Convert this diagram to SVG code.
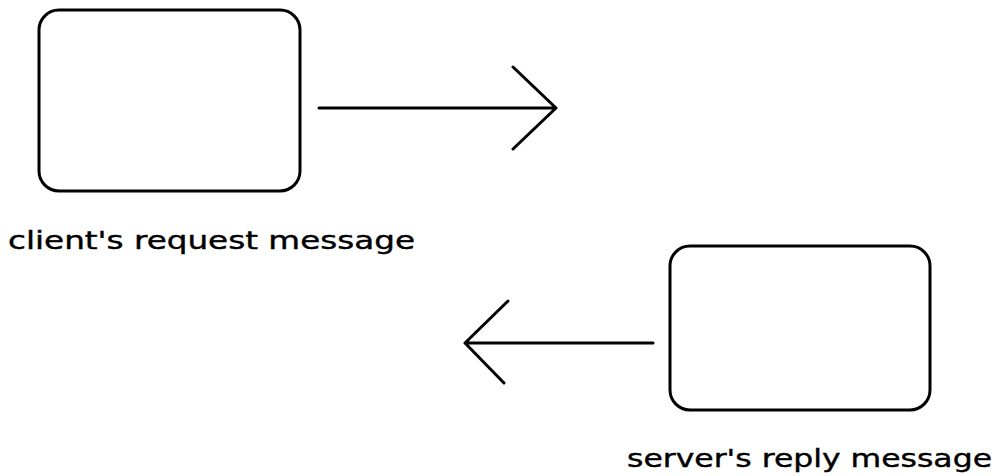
<svg xmlns="http://www.w3.org/2000/svg" width="1004" height="476" viewBox="0 0 1004 476">
<style>
.box{fill:none;stroke:#000;stroke-width:3}
.ln{fill:none;stroke:#000;stroke-width:3;stroke-linecap:round;stroke-linejoin:round}
.lbl{font-family:"DejaVu Sans","Liberation Sans",sans-serif;font-size:25px;fill:#000;stroke:#000;stroke-width:0.4}
</style>
<rect width="1004" height="476" fill="#fff"/>
<g id="client">
<rect class="box" x="39" y="10" width="261" height="181" rx="20" ry="20"/>
<text class="lbl" x="8" y="249" textLength="407" lengthAdjust="spacingAndGlyphs">client's request message</text>
</g>
<g id="server">
<rect class="box" x="670" y="246" width="260" height="164" rx="20" ry="20"/>
<text class="lbl" x="627" y="467" textLength="365" lengthAdjust="spacingAndGlyphs">server's reply message</text>
</g>
<g id="connectors">
<path class="ln" d="M319,108 H556 M513,67 L556,108 L513,149"/>
<path class="ln" d="M653,343 H465 M508,301 L465,343 L504,383"/>
</g>
</svg>
